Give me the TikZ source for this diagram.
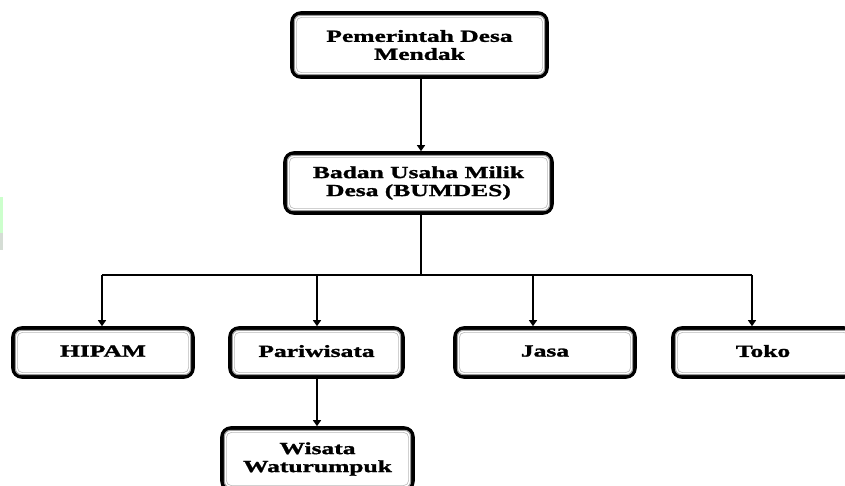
\documentclass[tikz,border=0pt]{standalone}
\usepackage{fontspec}
\setmainfont{Liberation Serif}[FakeStretch=1.5,FakeBold=1.5]
\usetikzlibrary{arrows.meta,calc}
\begin{document}
\begin{tikzpicture}[x=1pt,y=-1pt,
  orgbox/.style={draw=black,line width=3.6pt,rounded corners=9pt,fill=white,
    inner sep=0pt,align=center,font=\fontsize{17}{18}\selectfont\bfseries,text=black},
  link/.style={line width=1.2pt,-{Triangle[width=8pt,length=6pt]}},
  wire/.style={line width=1.2pt}]
\useasboundingbox (0,0) rectangle (845,486);
\fill[green!20!white] (0,197) rectangle (3,233);
\fill[green!10!gray!30] (0,233) rectangle (3,250);
\node[orgbox,minimum width=255pt,minimum height=64pt] (top) at (419.5,45) {Pemerintah Desa\\Mendak};
\node[orgbox,minimum width=267pt,minimum height=60pt] (bum) at (418.5,183) {Badan Usaha Milik\\Desa (BUMDES)};
\node[orgbox,minimum width=180pt,minimum height=49pt] (hipam) at (103,352.5) {\raisebox{3pt}{HIPAM}};
\node[orgbox,minimum width=173pt,minimum height=49pt] (pari) at (316.5,352.5) {\raisebox{3pt}{Pariwisata}};
\node[orgbox,minimum width=180pt,minimum height=49pt] (jasa) at (545,352.5) {\raisebox{3pt}{Jasa}};
\node[orgbox,minimum width=180pt,minimum height=49pt] (toko) at (763,352.5) {\raisebox{3pt}{Toko}};
\node[orgbox,minimum width=191pt,minimum height=62pt] (wis) at (317.5,459) {Wisata\\Waturumpuk};
\foreach \n in {top,bum,hipam,pari,jasa,toko,wis}{
  \draw[gray!80,line width=1pt,rounded corners=6pt]
    ($(\n.south west)+(4.2,-4.2)$) rectangle ($(\n.north east)+(-4.2,4.2)$);
  \draw[gray!55,line width=0.6pt,rounded corners=5pt]
    ($(\n.south west)+(6.2,-6.2)$) rectangle ($(\n.north east)+(-6.2,6.2)$);
}
\coordinate (j) at (421,275);
\coordinate (b1) at (102,275);
\coordinate (b2) at (317,275);
\coordinate (b3) at (533,275);
\coordinate (b4) at (752,275);
\draw[link] (top.south -| j) -- (bum.north -| j);
\draw[wire] (bum.south -| j) -- (j);
\draw[wire] (b1) -- (b4);
\draw[link] (b1) -- (b1 |- hipam.north);
\draw[link] (b2) -- (b2 |- pari.north);
\draw[link] (b3) -- (b3 |- jasa.north);
\draw[link] (b4) -- (b4 |- toko.north);
\draw[link] (pari.south -| b2) -- (wis.north -| b2);
\end{tikzpicture}
\end{document}
